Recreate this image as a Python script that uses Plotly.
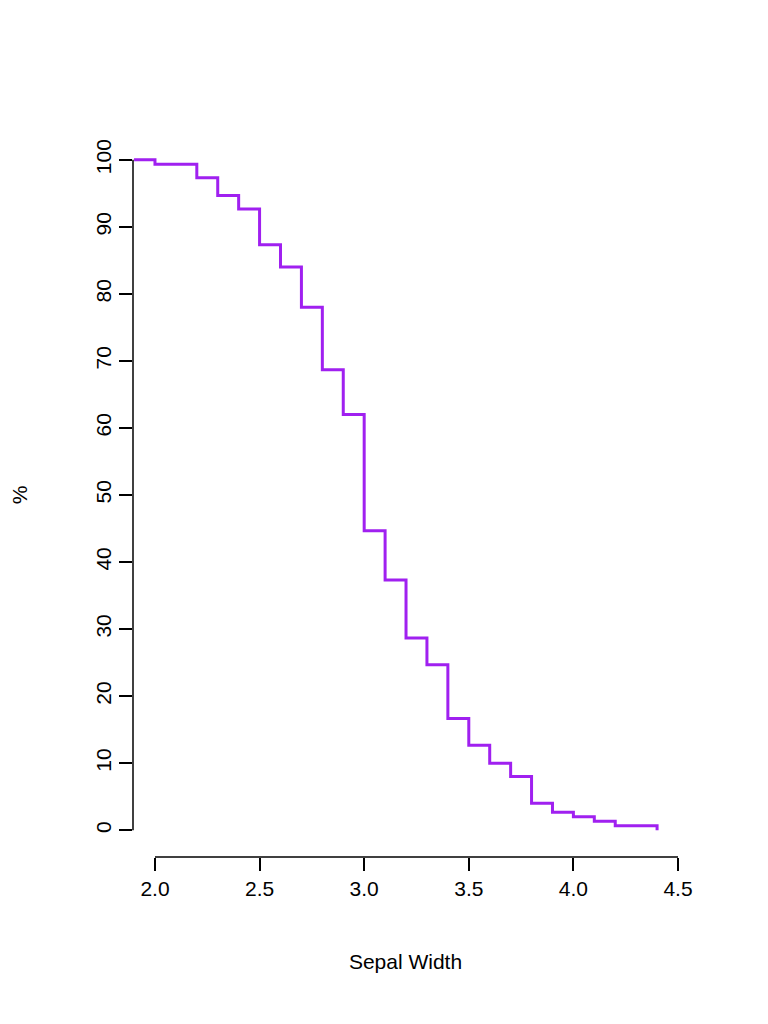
import plotly.graph_objects as go

# percent of flowers with sepal width greater than x (iris)
sepal_width = [1.9, 2.0, 2.2, 2.3, 2.4, 2.5, 2.6, 2.7, 2.8, 2.9, 3.0, 3.1, 3.2,
               3.3, 3.4, 3.5, 3.6, 3.7, 3.8, 3.9, 4.0, 4.1, 4.2, 4.4]
pct_above = [100, 99.33, 97.33, 94.67, 92.67, 87.33, 84.0, 78.0, 68.67, 62.0,
             44.67, 37.33, 28.67, 24.67, 16.67, 12.67, 10.0, 8.0, 4.0, 2.67,
             2.0, 1.33, 0.67, 0.0]

x_ticks = [2.0, 2.5, 3.0, 3.5, 4.0, 4.5]
y_ticks = [0, 10, 20, 30, 40, 50, 60, 70, 80, 90, 100]

fig = go.Figure()
fig.add_trace(go.Scatter(
    x=sepal_width, y=pct_above, mode="lines",
    line=dict(color="#A020F0", width=3, shape="hv"),
))

font = dict(family="Liberation Sans, Arial", size=21, color="black")

# R-style detached axis lines
fig.add_shape(type="line", xref="x", yref="paper", x0=2.0, x1=4.5, y0=0, y1=0,
              line=dict(color="black", width=1.5))
fig.add_shape(type="line", xref="paper", yref="y", x0=0, x1=0, y0=0, y1=100,
              line=dict(color="black", width=1.5))

fig.update_layout(
    width=768, height=1024,
    margin=dict(l=125, r=98, t=125, b=175),
    paper_bgcolor="white", plot_bgcolor="white",
    showlegend=False, font=font,
    xaxis=dict(range=[1.895, 4.5], tickvals=x_ticks,
               ticktext=[f"{v:.1f}" for v in x_ticks], tickfont=font,
               ticks="outside", ticklen=13, tickwidth=1.5, tickcolor="black",
               showgrid=False, zeroline=False, showline=False, automargin=False,
               title=dict(text="Sepal Width", font=font, standoff=55)),
    yaxis=dict(range=[-4, 104], tickvals=y_ticks, tickangle=-90, tickfont=font,
               ticks="outside", ticklen=13, tickwidth=1.5, tickcolor="black",
               showgrid=False, zeroline=False, showline=False, automargin=False,
               title=dict(text="%", font=font, standoff=60)),
)

fig.write_html("out.html")
